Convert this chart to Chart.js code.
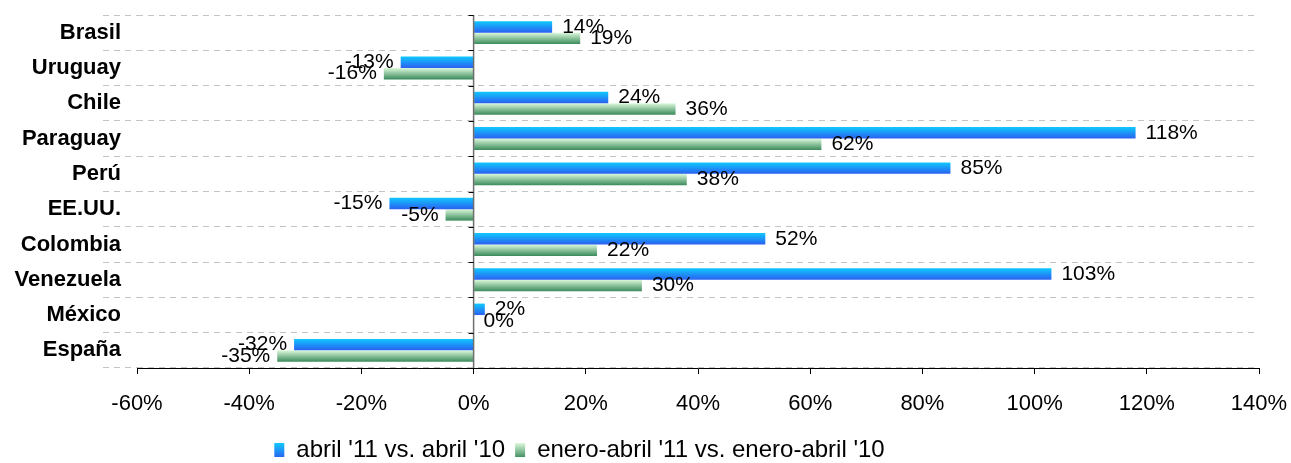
<!DOCTYPE html>
<html>
<head>
    <meta charset="utf-8">
    <title>Variación por país</title>
    <script src="https://cdn.jsdelivr.net/npm/chart.js"></script>
    <style>
        body { margin: 0; background: #fff; }
        #wrap { width: 1291px; height: 463px; }
    </style>
</head>
<body>
    <div id="wrap"><canvas id="barChart" width="1291" height="463"></canvas></div>

    <script>
        var paises = ['Brasil', 'Uruguay', 'Chile', 'Paraguay', 'Perú', 'EE.UU.', 'Colombia', 'Venezuela', 'México', 'España'];
        var abrilVsAbril = [14, -13, 24, 118, 85, -15, 52, 103, 2, -32];
        var eneroAbril = [19, -16, 36, 62, 38, -5, 22, 30, 0, -35];
        var nombresSeries = ["abril '11 vs. abril '10", "enero-abril '11 vs. enero-abril '10"];
        var ejeMin = -60, ejeMax = 140, ejePaso = 20;

        var colores = [
            ['#10c8ff', '#2a60f0'],  // azul
            ['#dcf9dc', '#3a8a5a']   // verde
        ];
        var catPct = 0.65;
        var fuente = '"Liberation Sans", Arial, sans-serif';

        function gradiente(c, serie, top, bottom) {
            var g = c.createLinearGradient(0, top, 0, bottom);
            g.addColorStop(0, colores[serie][0]);
            g.addColorStop(1, colores[serie][1]);
            return g;
        }

        // degradado vertical para cada barra, calculado desde la escala
        function degradado(ctx, serie) {
            var chart = ctx.chart;
            if (ctx.type === 'data' && chart.scales.y && chart.chartArea) {
                var y = chart.scales.y;
                var centro = y.getPixelForValue(ctx.dataIndex);
                var mitad = (y.height / paises.length) * catPct / 2;
                var top = serie === 0 ? centro - mitad : centro;
                return gradiente(chart.ctx, serie, top, top + mitad);
            }
            return colores[serie][1];
        }

        var etiquetas = {
            id: 'etiquetas',
            afterDatasetsDraw: function (chart) {
                var c = chart.ctx;
                c.save();
                c.font = '21px ' + fuente;
                c.fillStyle = '#000';
                c.textBaseline = 'middle';
                chart.data.datasets.forEach(function (ds, i) {
                    chart.getDatasetMeta(i).data.forEach(function (bar, j) {
                        var v = ds.data[j];
                        if (v >= 0) {
                            c.textAlign = 'left';
                            c.fillText(v + '%', bar.x + 10, bar.y);
                        } else {
                            c.textAlign = 'right';
                            c.fillText(v + '%', bar.x - 7, bar.y);
                        }
                    });
                });
                c.restore();
            }
        };

        // línea del cero con pequeñas marcas entre categorías
        var lineaCero = {
            id: 'lineaCero',
            afterDatasetsDraw: function (chart) {
                var c = chart.ctx;
                var x0 = chart.scales.x.getPixelForValue(0);
                var y = chart.scales.y;
                var paso = y.height / paises.length;
                c.save();
                c.strokeStyle = '#6e6e6e';
                c.lineWidth = 1.5;
                c.beginPath();
                c.moveTo(x0, y.top);
                c.lineTo(x0, y.bottom);
                c.stroke();
                c.strokeStyle = '#000';
                c.lineWidth = 1;
                c.beginPath();
                for (var k = 0; k <= paises.length; k++) {
                    var yy = Math.round(y.top + k * paso) + 0.5;
                    c.moveTo(x0 - 5, yy);
                    c.lineTo(x0, yy);
                }
                c.stroke();
                c.restore();
            }
        };

        // la leyenda de Excel no queda centrada: se corre a la izquierda
        var correrLeyenda = {
            id: 'correrLeyenda',
            afterLayout: function (chart) {
                chart.legend.left -= 50;
                chart.legend.right -= 50;
            }
        };

        var chart = new Chart(document.getElementById('barChart'), {
            type: 'bar',
            data: {
                labels: paises,
                datasets: [
                    {
                        label: nombresSeries[0],
                        data: abrilVsAbril,
                        backgroundColor: function (ctx) { return degradado(ctx, 0); },
                        borderWidth: 0
                    },
                    {
                        label: nombresSeries[1],
                        data: eneroAbril,
                        backgroundColor: function (ctx) { return degradado(ctx, 1); },
                        borderWidth: 0
                    }
                ]
            },
            options: {
                indexAxis: 'y',
                responsive: false,
                animation: false,
                datasets: {
                    bar: { categoryPercentage: catPct, barPercentage: 1.0 }
                },
                layout: { padding: { top: 15, right: 32, left: 0, bottom: -9 } },
                scales: {
                    x: {
                        min: ejeMin,
                        max: ejeMax,
                        ticks: {
                            stepSize: ejePaso,
                            color: '#000',
                            padding: 17,
                            maxRotation: 0,
                            font: { family: fuente, size: 22 },
                            callback: function (v) { return v + '%'; }
                        },
                        grid: {
                            color: 'transparent',
                            tickColor: '#000',
                            tickLength: 6,
                            drawOnChartArea: false
                        },
                        border: { color: '#000', width: 1 },
                        afterFit: function (s) {
                            s.height = 60;
                            s.paddingLeft = 0;
                            s.paddingRight = 0;
                        }
                    },
                    y: {
                        ticks: {
                            color: '#000',
                            padding: -18,
                            font: { family: fuente, size: 22, weight: 'bold' }
                        },
                        grid: {
                            color: '#c4c4c4',
                            tickColor: '#c4c4c4',
                            tickBorderDash: [6, 5],
                            tickLength: 34,
                            offset: true
                        },
                        border: { display: false, dash: [6, 5] },
                        afterFit: function (s) { s.width = 137; }
                    }
                },
                plugins: {
                    legend: {
                        position: 'bottom',
                        labels: {
                            boxWidth: 10,
                            boxHeight: 14,
                            color: '#000',
                            padding: 10,
                            font: { family: fuente, size: 24 },
                            generateLabels: function (chart) {
                                var items = Chart.defaults.plugins.legend.labels.generateLabels(chart);
                                items.forEach(function (it, i) {
                                    it.fillStyle = gradiente(chart.ctx, i, chart.height - 20, chart.height - 5);
                                });
                                return items;
                            }
                        }
                    },
                    tooltip: { enabled: false }
                }
            },
            plugins: [lineaCero, etiquetas, correrLeyenda]
        });
    </script>
</body>
</html>
